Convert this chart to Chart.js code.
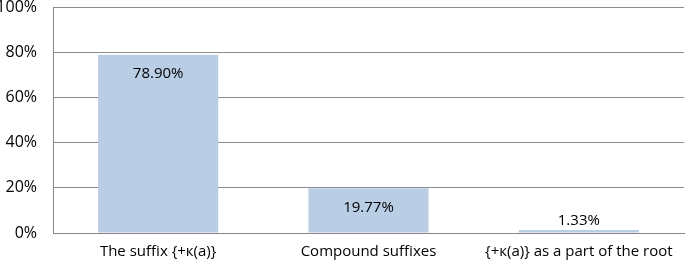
<!DOCTYPE html>
<html>
<head>
<meta charset="utf-8">
<script src="https://cdn.jsdelivr.net/npm/chart.js@4"></script>
<style>
  html, body { margin: 0; padding: 0; background: #fff; }
  #wrap { width: 685px; height: 264px; position: relative; }
</style>
</head>
<body>
<div id="wrap"><canvas id="myChart"></canvas></div>
<script>
const categories = ['The suffix {+к(a)}', 'Compound suffixes', '{+к(a)} as a part of the root'];
const shares = [78.90, 19.77, 1.33];
const shareLabels = ['78.90%', '19.77%', '1.33%'];

// draws the value text on each bar, inside if tall enough
const valueLabels = {
  id: 'valueLabels',
  afterDatasetsDraw(chart) {
    const ctx = chart.ctx;
    const meta = chart.getDatasetMeta(0);
    ctx.save();
    ctx.font = '15px "Open Sans"';
    ctx.fillStyle = '#000';
    ctx.textAlign = 'center';
    ctx.textBaseline = 'middle';
    meta.data.forEach((bar, i) => {
      const h = bar.base - bar.y;
      const y = h > 30 ? bar.y + 19 : bar.y - 9;
      ctx.fillText(shareLabels[i], bar.x, y);
    });
    ctx.restore();
  },
};

const config = {
  type: 'bar',
  data: {
    labels: categories,
    datasets: [
      {
        data: shares,
        backgroundColor: '#B9CDE5',
        borderWidth: 0,
        categoryPercentage: 1,
        barPercentage: 0.571,
      },
    ],
  },
  options: {
    responsive: false,
    animation: false,
    layout: { padding: { top: 7, right: 1, left: 0, bottom: 0 } },
    plugins: { legend: { display: false }, tooltip: { enabled: false } },
    scales: {
      x: {
        grid: { display: false, drawTicks: false },
        border: { color: '#868686', width: 1 },
        ticks: { color: '#000', font: { family: 'Open Sans', size: 15 }, padding: 10, maxRotation: 0 },
        afterFit: (scale) => { scale.height = 31; scale.paddingLeft = 0; scale.paddingRight = 0; },
      },
      y: {
        min: 0,
        max: 100,
        grid: { color: '#8c8c8c', drawTicks: false },
        border: { color: '#868686', width: 1 },
        ticks: {
          stepSize: 20,
          color: '#000',
          font: { family: 'Open Sans', size: 16 },
          padding: 16,
          callback: (v) => v + '%',
        },
        afterFit: (scale) => { scale.width = 53; scale.paddingTop = 0; scale.paddingBottom = 0; },
      },
    },
  },
  plugins: [valueLabels],
};

const canvas = document.getElementById('myChart');
canvas.width = 685;
canvas.height = 264;
const myChart = new Chart(canvas, config);
</script>
</body>
</html>
